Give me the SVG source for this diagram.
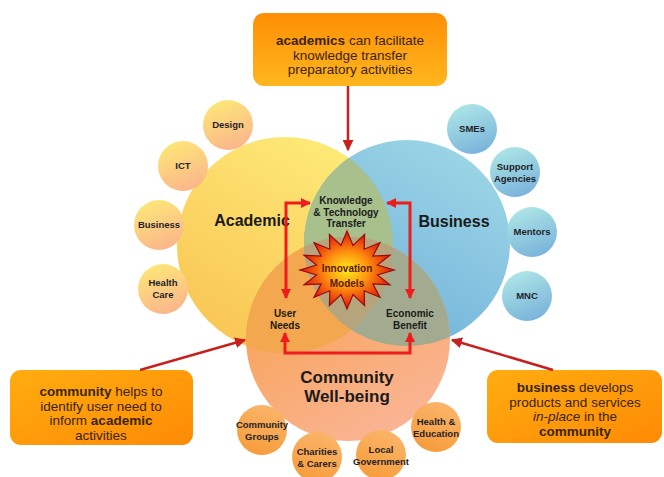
<svg xmlns="http://www.w3.org/2000/svg" width="664" height="477" viewBox="0 0 664 477">
  <style>
    text { font-family: "Liberation Sans", Arial, sans-serif; fill: #1a1a1a; text-anchor: middle; }
    .big { font-size: 16px; font-weight: bold; }
    .huge { font-size: 17px; font-weight: bold; }
    .mid { font-size: 10px; font-weight: bold; }
    .sat { font-size: 9.5px; font-weight: bold; fill: #1f1f26; }
    .box { font-size: 13.5px; fill: #3a2406; }
    .b { font-weight: bold; }
    .flow { fill: none; stroke: #ee1c1c; stroke-width: 3; marker-start: url(#head); marker-end: url(#head); }
    .call { fill: none; stroke: #c8201e; stroke-width: 2.5; marker-end: url(#head2); }
  </style>
  <defs>
    <linearGradient id="gA" x1="0.8" y1="0" x2="0.2" y2="1">
      <stop offset="0" stop-color="#feec7a"/>
      <stop offset="1" stop-color="#f9c452"/>
    </linearGradient>
    <linearGradient id="gB" x1="0.8" y1="0" x2="0.2" y2="1">
      <stop offset="0" stop-color="#9dd7e6"/>
      <stop offset="1" stop-color="#6eaed9"/>
    </linearGradient>
    <linearGradient id="gC" x1="0.2" y1="0" x2="0.8" y2="1">
      <stop offset="0" stop-color="#f79f48"/>
      <stop offset="1" stop-color="#fab69a"/>
    </linearGradient>
    <linearGradient id="gSatA" x1="0.3" y1="0" x2="0.7" y2="1">
      <stop offset="0" stop-color="#fde777"/>
      <stop offset="1" stop-color="#fbb48c"/>
    </linearGradient>
    <linearGradient id="gSatB" x1="0.3" y1="0" x2="0.7" y2="1">
      <stop offset="0" stop-color="#ade6e6"/>
      <stop offset="1" stop-color="#78b2da"/>
    </linearGradient>
    <linearGradient id="gSatC" x1="0.7" y1="0" x2="0.3" y2="1">
      <stop offset="0" stop-color="#fbb56a"/>
      <stop offset="1" stop-color="#f69c3a"/>
    </linearGradient>
    <linearGradient id="gBoxTop" x1="0" y1="0" x2="0" y2="1">
      <stop offset="0" stop-color="#ff8f05"/>
      <stop offset="1" stop-color="#ffb61e"/>
    </linearGradient>
    <linearGradient id="gBoxSide" x1="0" y1="0" x2="1" y2="1">
      <stop offset="0" stop-color="#ffad10"/>
      <stop offset="1" stop-color="#ff8a05"/>
    </linearGradient>
    <radialGradient id="gStar" cx="0.5" cy="0.5" r="0.5">
      <stop offset="0" stop-color="#ffec1a"/>
      <stop offset="0.45" stop-color="#ff9410"/>
      <stop offset="1" stop-color="#dc1008"/>
    </radialGradient>
    <clipPath id="clipA"><circle cx="285" cy="245" r="108"/></clipPath>
    <clipPath id="clipB"><circle cx="407" cy="243" r="103"/></clipPath>
    <marker id="head" viewBox="0 0 10 10" refX="9" refY="5" markerWidth="10" markerHeight="10" markerUnits="userSpaceOnUse" orient="auto-start-reverse">
      <path d="M0,0 L10,5 L0,10 Z" fill="#ee1c1c"/>
    </marker>
    <marker id="head2" viewBox="0 0 10 10" refX="9" refY="5" markerWidth="11" markerHeight="11" markerUnits="userSpaceOnUse" orient="auto">
      <path d="M0,0 L10,5 L0,10 Z" fill="#c8201e"/>
    </marker>
  </defs>

  <rect width="664" height="477" fill="#ffffff"/>

  <!-- three overlapping sectors -->
  <g id="academic">
    <circle cx="285" cy="245" r="108" fill="url(#gA)"/>
  </g>
  <g id="business">
    <circle cx="407" cy="243" r="103" fill="url(#gB)"/>
  </g>
  <g id="community">
    <circle cx="348" cy="339" r="102" fill="url(#gC)"/>
  </g>
  <g id="overlaps">
    <g clip-path="url(#clipA)">
      <circle cx="407" cy="243" r="103" fill="#a8c08b"/>
      <circle cx="348" cy="339" r="102" fill="#f3a74e"/>
    </g>
    <g clip-path="url(#clipB)">
      <circle cx="348" cy="339" r="102" fill="#a2aa8f"/>
    </g>
    <g clip-path="url(#clipA)">
      <g clip-path="url(#clipB)">
        <circle cx="348" cy="339" r="102" fill="#b6a47d"/>
      </g>
    </g>
  </g>

  <text class="big" x="252" y="226">Academic</text>
  <text class="big" x="454" y="227">Business</text>
  <text class="huge" x="347" y="383">Community</text>
  <text class="huge" x="347" y="402">Well-being</text>

  <!-- academic satellites -->
  <g id="sat-design"><circle cx="228" cy="125" r="25" fill="url(#gSatA)"/><text class="sat" x="228" y="128">Design</text></g>
  <g id="sat-ict"><circle cx="183" cy="166" r="25" fill="url(#gSatA)"/><text class="sat" x="183" y="169">ICT</text></g>
  <g id="sat-business"><circle cx="159" cy="225" r="25" fill="url(#gSatA)"/><text class="sat" x="159" y="228">Business</text></g>
  <g id="sat-health-care"><circle cx="163" cy="289" r="25" fill="url(#gSatA)"/><text class="sat" x="163" y="286">Health</text><text class="sat" x="163" y="298">Care</text></g>

  <!-- business satellites -->
  <g id="sat-smes"><circle cx="472" cy="129" r="25" fill="url(#gSatB)"/><text class="sat" x="472" y="132">SMEs</text></g>
  <g id="sat-support"><circle cx="515" cy="172" r="25" fill="url(#gSatB)"/><text class="sat" x="515" y="170">Support</text><text class="sat" x="515" y="182">Agencies</text></g>
  <g id="sat-mentors"><circle cx="532" cy="232" r="25" fill="url(#gSatB)"/><text class="sat" x="532" y="235">Mentors</text></g>
  <g id="sat-mnc"><circle cx="527" cy="296" r="25" fill="url(#gSatB)"/><text class="sat" x="527" y="299">MNC</text></g>

  <!-- community satellites -->
  <g id="sat-groups"><circle cx="262" cy="430" r="25" fill="url(#gSatC)"/><text class="sat" x="262" y="428">Community</text><text class="sat" x="262" y="440">Groups</text></g>
  <g id="sat-charities"><circle cx="317" cy="457" r="25" fill="url(#gSatC)"/><text class="sat" x="317" y="455">Charities</text><text class="sat" x="317" y="467">&amp; Carers</text></g>
  <g id="sat-local-gov"><circle cx="381" cy="455" r="25" fill="url(#gSatC)"/><text class="sat" x="381" y="453">Local</text><text class="sat" x="381" y="465">Government</text></g>
  <g id="sat-health-edu"><circle cx="436" cy="427" r="25" fill="url(#gSatC)"/><text class="sat" x="436" y="425">Health &amp;</text><text class="sat" x="436" y="437">Education</text></g>

  <!-- inner flow nodes -->
  <g id="kt-transfer">
    <text class="mid" x="346" y="204">Knowledge</text>
    <text class="mid" x="346" y="215.5">&amp; Technology</text>
    <text class="mid" x="346" y="227">Transfer</text>
  </g>
  <g id="innovation-models">
    <polygon fill="url(#gStar)" stroke="#9a0a0a" stroke-width="1.2" points="347,231 353,245.5 364.6,234.4 364.2,249.2 380,242.6 372.8,256.1 390,255.2 377.4,265.1 394,270 377.4,274.9 390,284.8 372.8,283.9 380,297.4 364.2,290.8 364.6,305.6 353,294.5 347,309 341,294.5 329.4,305.6 329.8,290.8 314,297.4 321.2,283.9 304,284.8 316.6,274.9 300,270 316.6,265.1 304,255.2 321.2,256.1 314,242.6 329.8,249.2 329.4,234.4 341,245.5"/>
    <text class="mid" x="347" y="272" style="fill:#5a1606">Innovation</text>
    <text class="mid" x="347" y="287" style="fill:#5a1606">Models</text>
  </g>
  <g id="user-needs">
    <text class="mid" x="285" y="317">User</text>
    <text class="mid" x="285" y="328.5">Needs</text>
  </g>
  <g id="economic-benefit">
    <text class="mid" x="410" y="317">Economic</text>
    <text class="mid" x="410" y="328.5">Benefit</text>
  </g>

  <!-- callout boxes -->
  <g id="box-academics">
    <rect x="253" y="13" width="194" height="73" rx="11" fill="url(#gBoxTop)"/>
    <text class="box" x="350" y="45"><tspan class="b">academics</tspan> can facilitate</text>
    <text class="box" x="350" y="59.5">knowledge transfer</text>
    <text class="box" x="350" y="74">preparatory activities</text>
  </g>
  <g id="box-community">
    <rect x="10" y="370" width="183" height="75" rx="11" fill="url(#gBoxSide)"/>
    <text class="box" x="101" y="396"><tspan class="b">community</tspan> helps to</text>
    <text class="box" x="101" y="410.5">identify user need to</text>
    <text class="box" x="101" y="425">inform <tspan class="b">academic</tspan></text>
    <text class="box" x="101" y="439.5">activities</text>
  </g>
  <g id="box-business">
    <rect x="487" y="370" width="175" height="73" rx="11" fill="url(#gBoxSide)"/>
    <text class="box" x="575" y="392"><tspan class="b">business</tspan> develops</text>
    <text class="box" x="575" y="406.5">products and services</text>
    <text class="box" x="575" y="421"><tspan font-style="italic">in-place</tspan> in the</text>
    <text class="box" x="575" y="435.5"><tspan class="b">community</tspan></text>
  </g>

  <!-- connectors -->
  <g id="connectors">
    <path class="flow" d="M310,203 H286 V298"/>
    <path class="flow" d="M387,203 H410 V298"/>
    <path class="flow" d="M285,333 V353 H410 V333"/>
    <path class="call" d="M348,86 V150"/>
    <path class="call" d="M140,370 L245,340"/>
    <path class="call" d="M553,370 L452,340"/>
  </g>
</svg>
